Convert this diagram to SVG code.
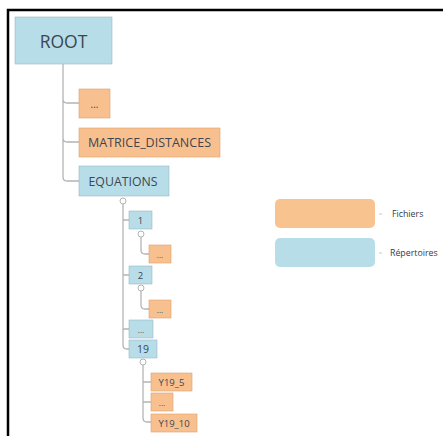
<svg xmlns="http://www.w3.org/2000/svg" width="443" height="436" viewBox="0 0 443 436">
<style>
.f{fill:#f9c08f;stroke:#d9a070;stroke-width:0.6}
.d{fill:#b7dde8;stroke:#9ab8c4;stroke-width:0.6}
.t{font-family:"Open Sans","Noto Sans",sans-serif;fill:#3c4650;text-anchor:middle;dominant-baseline:central}
.c{fill:none;stroke:#b4b4b4;stroke-width:1.3}
.k{fill:#fff;stroke:#b4b4b4;stroke-width:1}
.l{font-family:"Open Sans","Noto Sans",sans-serif;fill:#333b44;font-size:8.8px;dominant-baseline:central}
</style>
<rect x="0" y="0" width="443" height="436" fill="#fff"/>
<path d="M8 436 V10 H443" fill="none" stroke="#000" stroke-width="2.5"/>
<g id="connectors">
<path class="c" d="M63 64 V177 Q63 181 67 181 H79 M63 99 Q63 103 67 103 H79 M63 138 Q63 142 67 142 H79"/>
<path class="c" d="M123 204 V345 Q123 349 127 349 H130 M123 220 H130 M123 275 H130 M123 329 H130"/>
<path class="c" d="M141 237 V250 Q141 254 145 254 H149 M141 291 V305 Q141 309 145 309 H149"/>
<path class="c" d="M143 365 V418 Q143 422 147 422 H151 M143 382 H151 M143 402 H151"/>
<circle class="k" cx="123" cy="201" r="3"/>
<circle class="k" cx="141" cy="234" r="3"/>
<circle class="k" cx="141" cy="288" r="3"/>
<circle class="k" cx="143" cy="362" r="3"/>
</g>
<g id="root"><rect class="d" x="15" y="17" width="97" height="47"/><text class="t" x="63.5" y="41" font-size="17.5">ROOT</text></g>
<g id="n-dots1"><rect class="f" x="79" y="89" width="31" height="29"/><text class="t" x="94.5" y="104" font-size="10">...</text></g>
<g id="n-matrice"><rect class="f" x="79" y="128" width="141" height="29"/><text class="t" x="149.5" y="142.5" font-size="12.3" textLength="123" lengthAdjust="spacingAndGlyphs">MATRICE_DISTANCES</text></g>
<g id="n-equations"><rect class="d" x="79" y="166" width="90" height="30"/><text class="t" x="123" y="181" font-size="12.3">EQUATIONS</text></g>
<g id="n-1"><rect class="d" x="129" y="211" width="23" height="18"/><text class="t" x="140.5" y="220" font-size="9.5">1</text></g>
<g id="n-1-dots"><rect class="f" x="149" y="245" width="22" height="18"/><text class="t" x="160" y="254" font-size="8">...</text></g>
<g id="n-2"><rect class="d" x="129" y="266" width="23" height="18"/><text class="t" x="140.5" y="275" font-size="9.5">2</text></g>
<g id="n-2-dots"><rect class="f" x="149" y="300" width="22" height="18"/><text class="t" x="160" y="309" font-size="8">...</text></g>
<g id="n-dots-dir"><rect class="d" x="129" y="320" width="24" height="18"/><text class="t" x="141" y="329" font-size="8">...</text></g>
<g id="n-19"><rect class="d" x="129" y="340" width="28" height="18"/><text class="t" x="143" y="349" font-size="10.5">19</text></g>
<g id="n-y19-5"><rect class="f" x="151" y="373" width="41" height="18"/><text class="t" x="171.5" y="382" font-size="9.5">Y19_5</text></g>
<g id="n-y19-dots"><rect class="f" x="151" y="393" width="22" height="18"/><text class="t" x="162" y="402" font-size="8">...</text></g>
<g id="n-y19-10"><rect class="f" x="151" y="414" width="46" height="18"/><text class="t" x="174" y="423" font-size="9.5">Y19_10</text></g>
<g id="legend-fichiers"><rect x="275" y="199" width="100" height="29" rx="5" fill="#f9c390"/><path d="M379 214 H382" stroke="#c8c8c8" stroke-width="1"/><text class="l" x="392" y="214">Fichiers</text></g>
<g id="legend-repertoires"><rect x="275" y="238" width="100" height="29" rx="5" fill="#b7dde8"/><path d="M379 253 H382" stroke="#c8c8c8" stroke-width="1"/><text class="l" x="390" y="253">Répertoires</text></g>
</svg>
